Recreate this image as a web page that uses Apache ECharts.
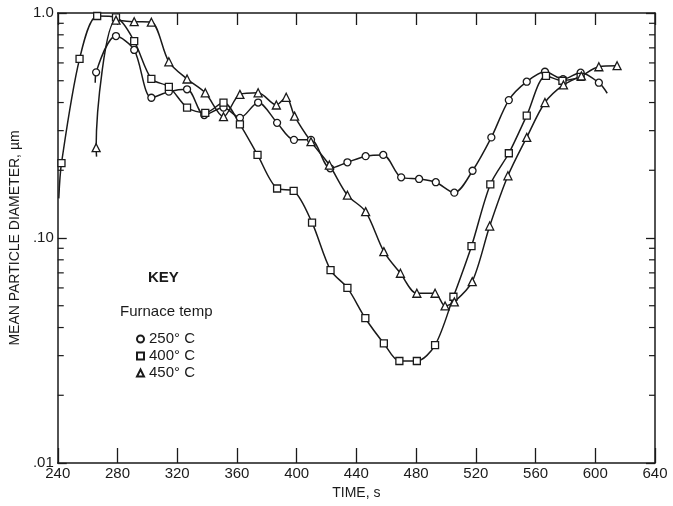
<!DOCTYPE html>
<html>
<head>
<meta charset="utf-8">
<script src="https://cdn.jsdelivr.net/npm/echarts@6/dist/echarts.min.js"></script>
<style>
html,body{margin:0;padding:0;background:#fff;}
#chart{width:673px;height:506px;}
</style>
</head>
<body>
<div id="chart"></div>
<script>
// ---- data (time s, mean particle diameter µm) ----
const seriesNames = ['250° C', '400° C', '450° C'];
const xTickLabels = ['240','280','320','360','400','440','480','520','560','600','640'];
const yTickLabels = {0.01: '.01', 0.1: '.10', 1: '1.0'};
const minorTickValues = [0.02,0.03,0.04,0.05,0.06,0.07,0.08,0.09,0.2,0.3,0.4,0.5,0.6,0.7,0.8,0.9];

// entries marked "tail" are line ends drawn without a marker
const temp250 = [
  [265.1,0.49,'tail'],[265.7,0.545],[279,0.79],[291.2,0.685],[302.7,0.42],[314.4,0.447],[326.6,0.458],
  [338.1,0.352],[351,0.38],[362,0.342],[374.2,0.40],[386.9,0.325],[398.2,0.273],[409.6,0.273],
  [422.5,0.204],[434,0.217],[446.2,0.231],[458,0.234],[470,0.186],[482,0.183],[493.2,0.177],
  [505.6,0.159],[517.8,0.199],[530.4,0.28],[542.1,0.41],[554.1,0.495],[566.3,0.548],[578.4,0.508],
  [590.2,0.543],[602.4,0.49],[608,0.44,'tail']
];
const temp400 = [
  [240.7,0.15,'tail'],[242.5,0.215],[254.6,0.625],[266.4,0.97],[279,0.957],[291.2,0.75],[302.7,0.51],
  [314.4,0.47],[326.6,0.38],[338.8,0.36],[351,0.40],[362,0.32],[373.8,0.234],[386.9,0.166],
  [398,0.162],[410.3,0.117],[422.7,0.072],[434,0.06],[446,0.044],[458.4,0.034],[468.8,0.0284],
  [480.5,0.0284],[492.7,0.0334],[505,0.0548],[517.1,0.092],[529.7,0.173],[542.1,0.238],
  [554.1,0.35],[567,0.525],[578,0.50],[590.2,0.52]
];
const temp450 = [
  [266,0.23,'tail'],[265.7,0.252],[279,0.93],[291.2,0.915],[302.7,0.91],[314.4,0.607],[326.6,0.509],
  [338.8,0.442],[351,0.346],[362,0.435],[374.2,0.442],[386.4,0.39],[393,0.422],[398.6,0.348],
  [409.6,0.268],[421.9,0.211],[434,0.155],[446.2,0.131],[458.4,0.087],[469.5,0.0697],[480.5,0.0568],
  [492.7,0.0568],[499.4,0.0499],[505.6,0.052],[517.6,0.064],[529.3,0.113],[541.5,0.189],
  [554.1,0.28],[566.3,0.40],[578.7,0.479],[590.7,0.525],[602.4,0.577],[614.6,0.583]
];

function toData(arr){
  return arr.map(p => p[2] === 'tail'
    ? {value:[p[0],p[1]], symbol:'none'}
    : {value:[p[0],p[1]]});
}

const FONT = '"Liberation Sans", Arial, sans-serif';
const INK = '#1a1a1a';

function makeLine(name, arr, sym){
  return {
    name: name, type: 'line', data: toData(arr), smooth: 0.3,
    symbol: sym, symbolSize: sym === 'triangle' ? 8 : 7,
    showAllSymbol: true,
    lineStyle: {color: INK, width: 1.5},
    itemStyle: {color: '#fff', borderColor: INK, borderWidth: 1.3},
    emphasis: {disabled: true},
    z: 3
  };
}

const chart = echarts.init(document.getElementById('chart'), null, {renderer:'canvas'});
chart.setOption({
  backgroundColor: '#fff',
  animation: false,
  grid: {left: 53, right: 18, top: 13, bottom: 43},
  xAxis: [{
    type: 'value', min: 240, max: 640, interval: 40,
    axisLine: {lineStyle: {color: INK, width: 1.5}},
    axisTick: {inside: true, length: 15, lineStyle: {color: INK, width: 1.3}},
    axisLabel: {color: INK, fontSize: 15, fontFamily: FONT, margin: 3,
      formatter: v => xTickLabels[Math.round((v-240)/40)] || ''},
    splitLine: {show: false},
    name: 'TIME, s', nameLocation: 'middle', nameGap: 22,
    nameTextStyle: {color: INK, fontSize: 14, fontFamily: FONT}
  },{
    type: 'value', min: 240, max: 640, interval: 40, position: 'top',
    axisLine: {lineStyle: {color: INK, width: 1.5}},
    axisTick: {inside: true, length: 12, lineStyle: {color: INK, width: 1.3}},
    axisLabel: {show: false}, splitLine: {show: false}
  }],
  yAxis: [{
    type: 'log', logBase: 10, min: 0.01, max: 1,
    axisLine: {show: true, lineStyle: {color: INK, width: 1.5}},
    axisTick: {inside: true, length: 9, lineStyle: {color: INK, width: 1.3}},
    axisLabel: {color: INK, fontSize: 15, fontFamily: FONT, margin: 4,
      formatter: v => yTickLabels[+v.toPrecision(3)] || ''},
    splitLine: {show: false},
    name: 'MEAN PARTICLE DIAMETER, \u00B5m', nameLocation: 'middle', nameGap: 34,
    nameTextStyle: {color: INK, fontSize: 14, fontFamily: FONT}
  },{
    type: 'log', logBase: 10, min: 0.01, max: 1, position: 'right',
    axisLine: {show: true, lineStyle: {color: INK, width: 1.5}},
    axisTick: {inside: true, length: 9, lineStyle: {color: INK, width: 1.3}},
    axisLabel: {show: false}, splitLine: {show: false}
  }],
  legend: {
    orient: 'vertical', left: 131, top: 326, itemGap: 1,
    itemWidth: 7, itemHeight: 7,
    textStyle: {color: INK, fontSize: 15, fontFamily: FONT, lineHeight: 16, padding: [0,0,0,0]},
    data: [
      {name: seriesNames[0], icon: 'circle'},
      {name: seriesNames[1], icon: 'rect'},
      {name: seriesNames[2], icon: 'triangle'}
    ],
    selectedMode: false
  },
  graphic: [
    {type: 'text', left: 148, top: 270, style: {text: 'KEY', fill: INK, font: 'bold 15px ' + FONT}},
    {type: 'text', left: 120, top: 304, style: {text: 'Furnace temp', fill: INK, font: '15px ' + FONT}}
  ],
  series: [
    makeLine(seriesNames[0], temp250, 'circle'),
    makeLine(seriesNames[1], temp400, 'rect'),
    makeLine(seriesNames[2], temp450, 'triangle'),
    {
      type: 'custom', silent: true, z: 2,
      data: minorTickValues.map(v => [v]),
      renderItem: function(params, api){
        const v = api.value(0);
        const l = api.coord([240, v]);
        const r = api.coord([640, v]);
        const len = 6;
        return {type: 'group', children: [
          {type: 'line', shape: {x1: l[0], y1: l[1], x2: l[0] + len, y2: l[1]}, style: {stroke: INK, lineWidth: 1.2}},
          {type: 'line', shape: {x1: r[0], y1: r[1], x2: r[0] - len, y2: r[1]}, style: {stroke: INK, lineWidth: 1.2}}
        ]};
      }
    }
  ]
});
</script>
</body>
</html>
